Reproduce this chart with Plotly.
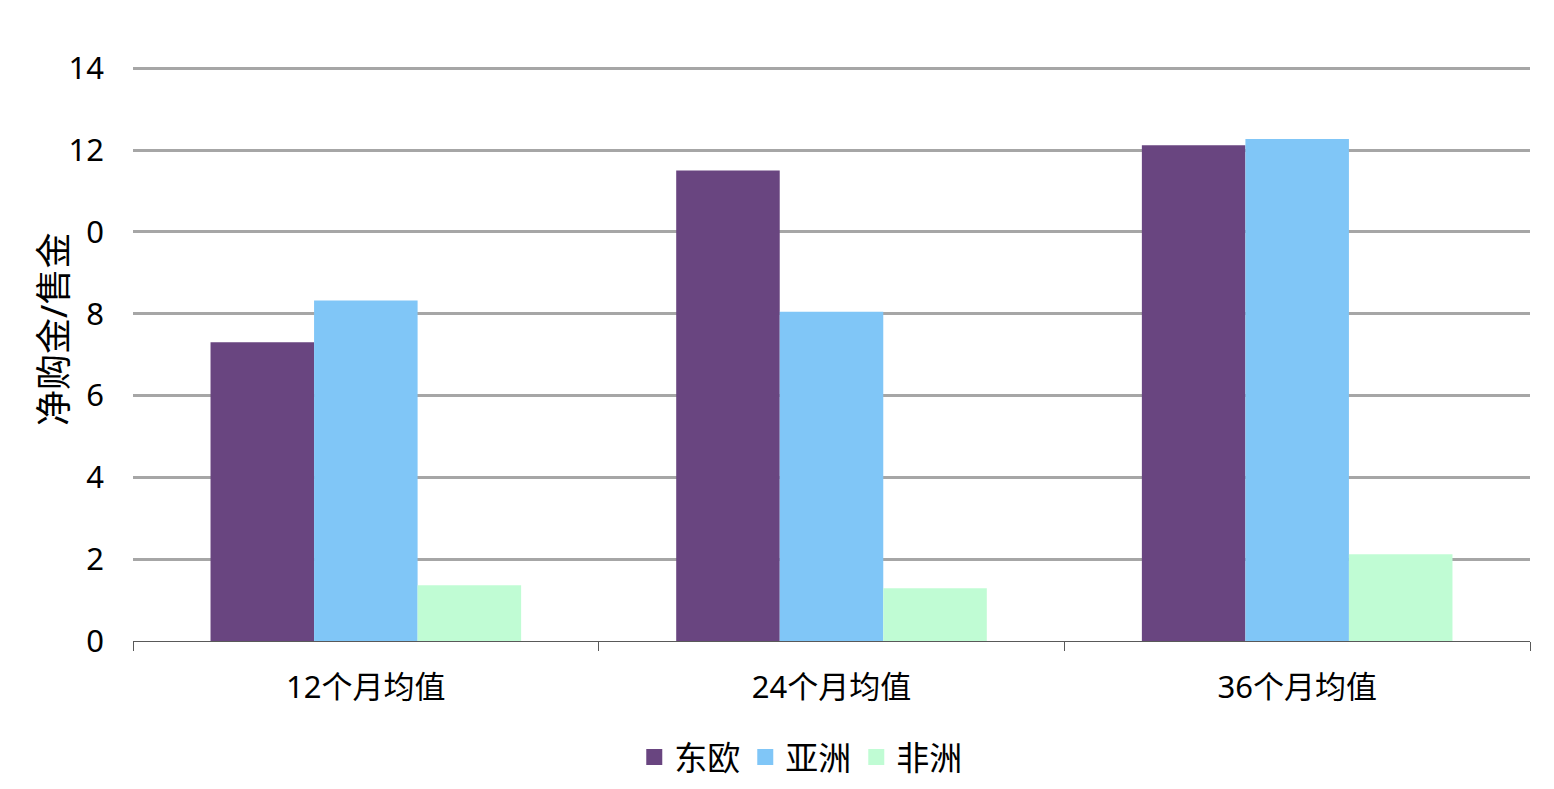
import plotly.graph_objects as go

categories = ["12个月均值", "24个月均值", "36个月均值"]
series_names = ["东欧", "亚洲", "非洲"]
east_europe = [7.3, 11.5, 12.12]
asia = [8.32, 8.05, 12.27]
africa = [1.36, 1.29, 2.12]
y_tickvals = [0, 2, 4, 6, 8, 10, 12, 14]
y_ticktext = ["0", "2", "4", "6", "8", "0", "12", "14"]
colors = ["#694580", "#80C6F7", "#C0FCD4"]

FONT = "Noto Sans, Noto Sans CJK SC, sans-serif"

fig = go.Figure()
for name, vals, c in zip(series_names, [east_europe, asia, africa], colors):
    fig.add_trace(go.Bar(name=name, x=categories, y=vals, showlegend=False,
                         marker=dict(color=c, line=dict(width=0))))
# legend entries (larger square swatches)
for name, c in zip(series_names, colors):
    fig.add_trace(go.Scatter(name=name, x=[categories[0]], y=[None], mode="markers",
                             marker=dict(symbol="square", size=16, color=c),
                             showlegend=True, hoverinfo="skip"))

fig.update_layout(
    width=1554, height=789,
    margin=dict(l=133, r=24, t=67, b=148),
    paper_bgcolor="white", plot_bgcolor="white",
    barmode="group", bargap=0.333, bargroupgap=0,
    font=dict(family=FONT, color="#000000"),
    showlegend=True,
    legend=dict(orientation="h", xref="paper", x=0.478, xanchor="center",
                yref="container", y=(789 - 757) / 789, yanchor="middle",
                font=dict(size=33, family=FONT), itemsizing="trace", traceorder="normal",
                itemwidth=30, tracegroupgap=0),
    xaxis=dict(
        showgrid=False, showline=True, linecolor="#595959", linewidth=1,
        ticks="outside", tickson="boundaries", ticklen=9, tickcolor="#595959",
        tickfont=dict(size=31, family=FONT), ticklabelstandoff=19, automargin=False,
    ),
    yaxis=dict(
        range=[0, 14.03], tickvals=y_tickvals, ticktext=y_ticktext,
        showgrid=True, gridcolor="#A6A6A6", gridwidth=2.5,
        showline=False, zeroline=False, ticks="", automargin=False,
        tickfont=dict(size=31, family=FONT), ticklabelstandoff=28,
    ),
    annotations=[dict(
        text="净购金/售金", textangle=-90, xref="paper", yref="paper",
        x=(53 - 133) / 1397, y=(641 - 330) / 574, xanchor="center", yanchor="middle",
        showarrow=False, font=dict(size=36, family=FONT),
    )],
)

fig.write_html("out.html")
